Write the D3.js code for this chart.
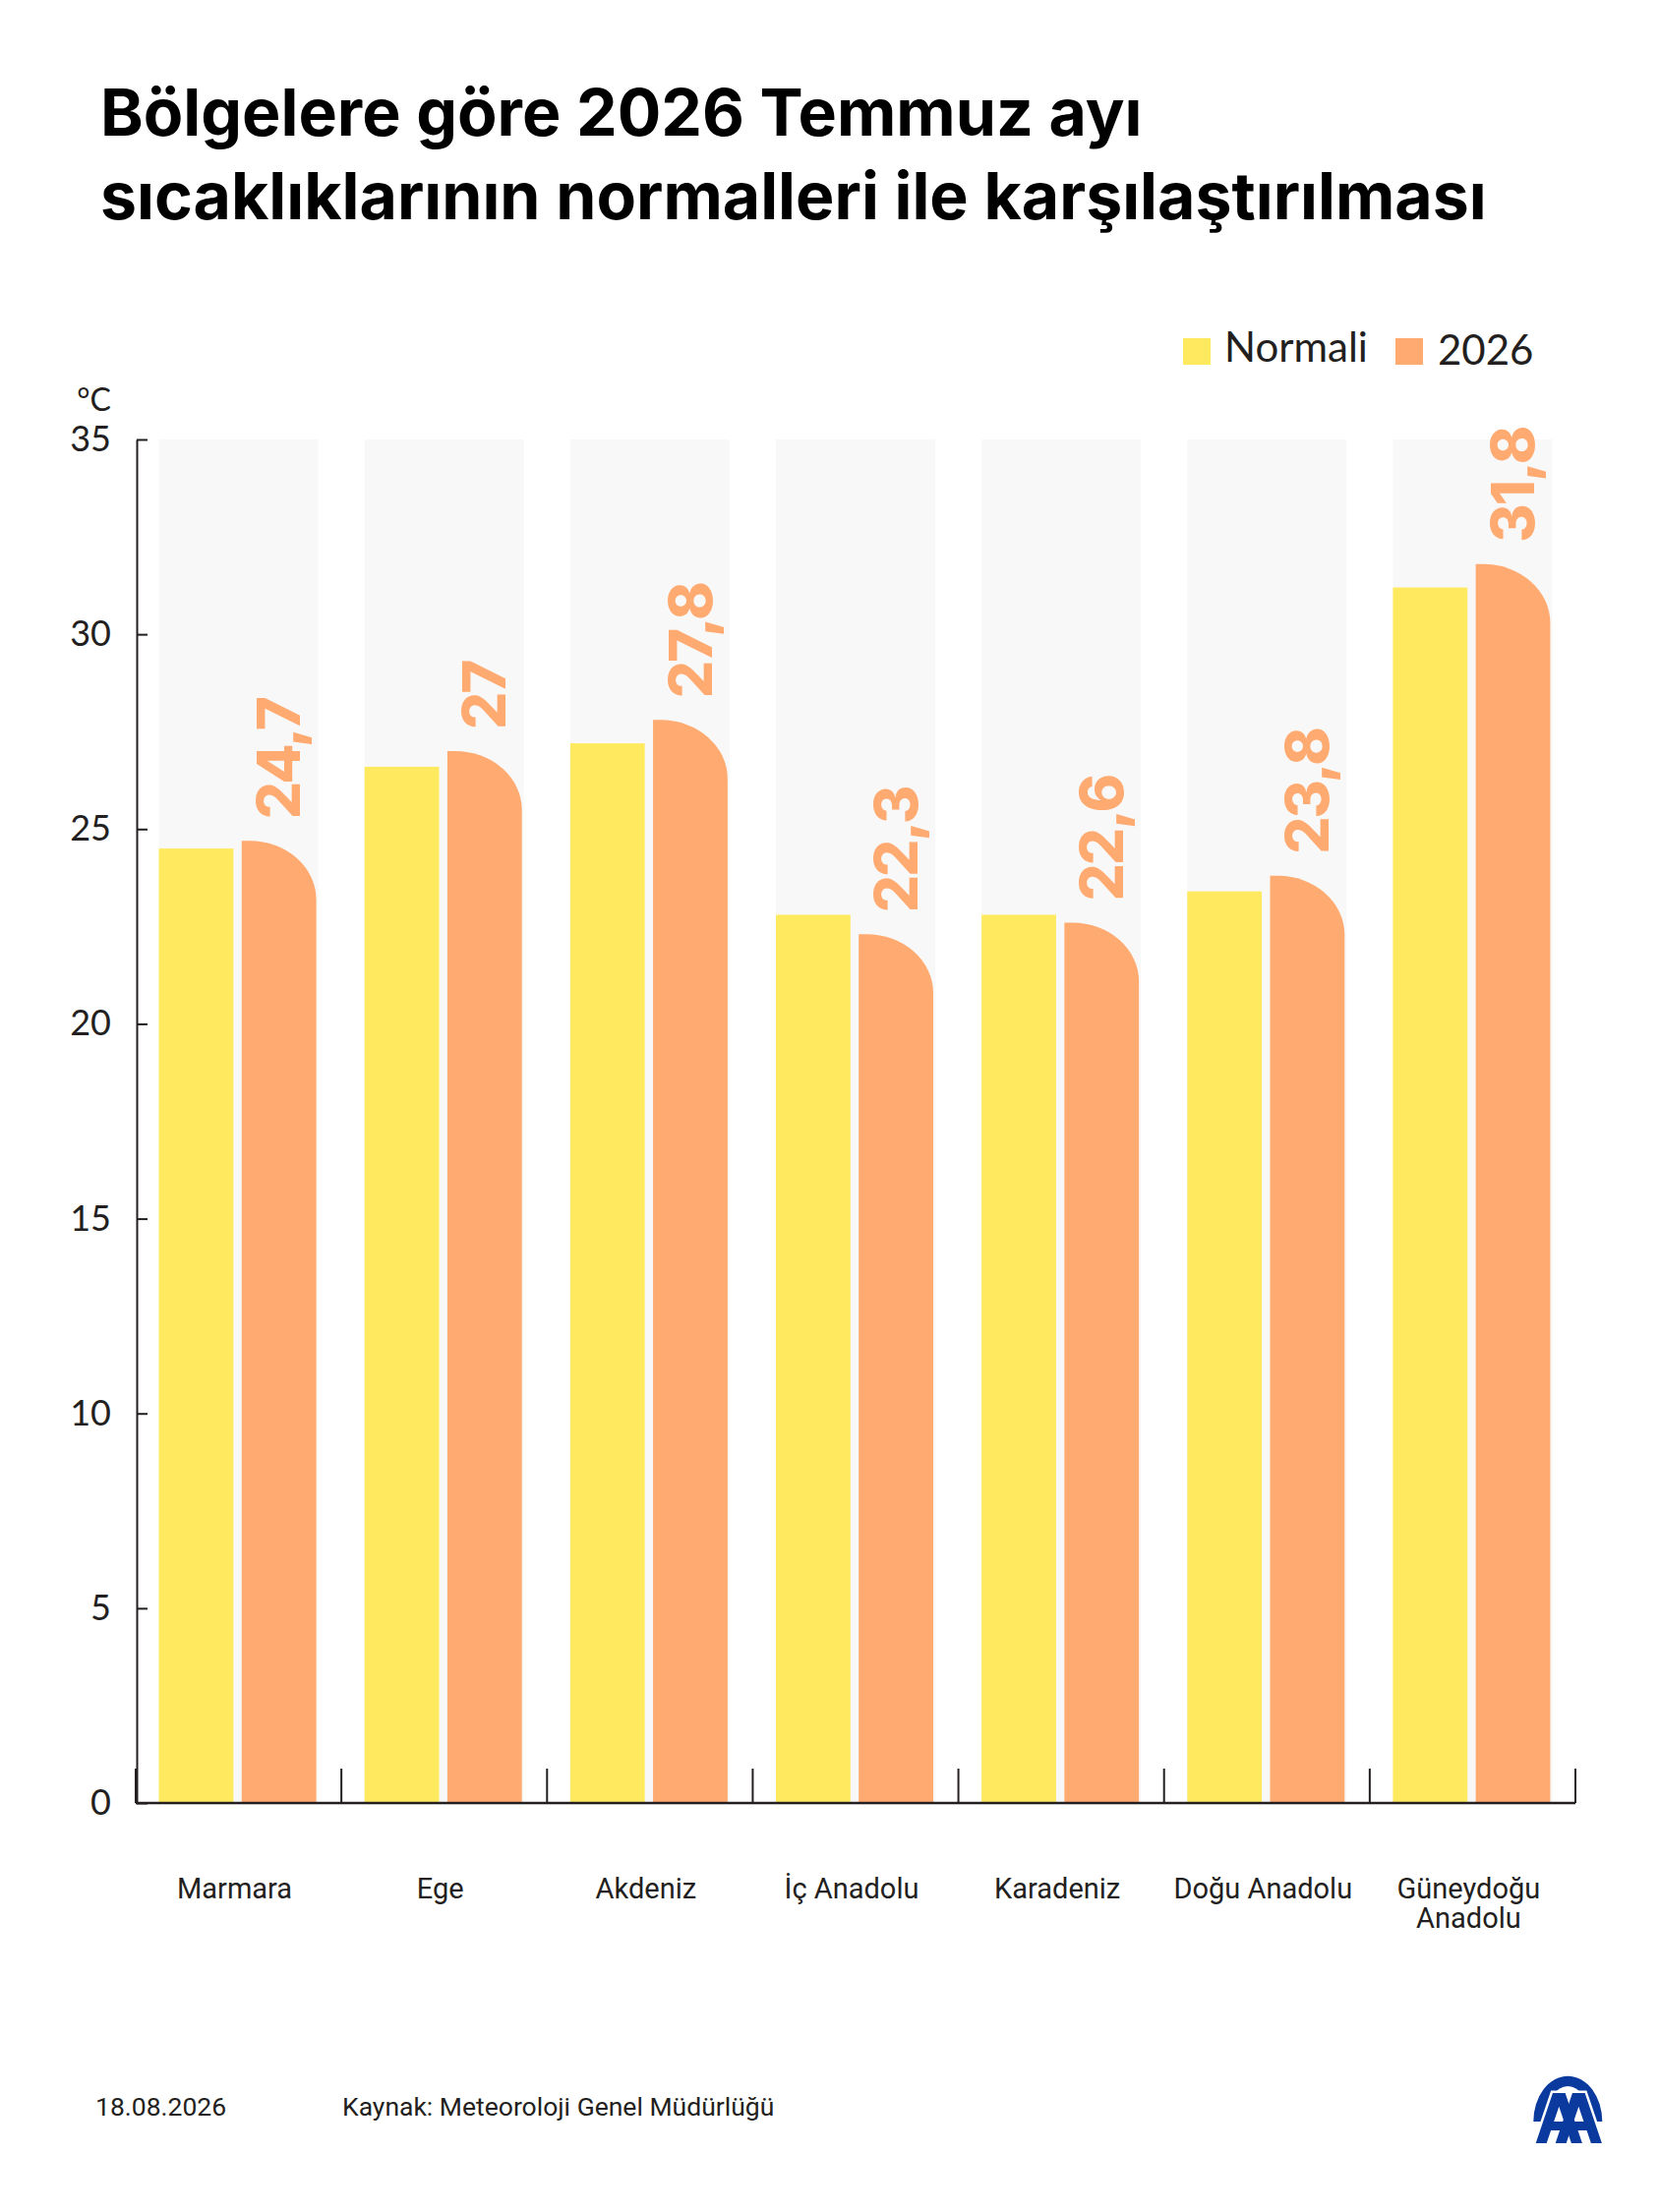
<!DOCTYPE html>
<html><head><meta charset="utf-8">
<script src="https://cdn.jsdelivr.net/npm/d3@7"></script>
<style>html,body{margin:0;padding:0;background:#fff}svg{display:block}</style>
</head><body>
<script>
// ---- data ----
const categories = ["Marmara", "Ege", "Akdeniz", "İç Anadolu", "Karadeniz", "Doğu Anadolu", "Güneydoğu Anadolu"];
const categoryLines = [["Marmara"], ["Ege"], ["Akdeniz"], ["İç Anadolu"], ["Karadeniz"], ["Doğu Anadolu"], ["Güneydoğu", "Anadolu"]];
const normalValues = [24.5, 26.6, 27.2, 22.8, 22.8, 23.4, 31.2];
const values2026 = [24.7, 27, 27.8, 22.3, 22.6, 23.8, 31.8];
const valueLabels = ["24,7", "27", "27,8", "22,3", "22,6", "23,8", "31,8"];
const yTicks = [0, 5, 10, 15, 20, 25, 30, 35];
const seriesNames = ["Normali", "2026"];
const titleLines = ["Bölgelere göre 2026 Temmuz ayı", "sıcaklıklarının normalleri ile karşılaştırılması"];
const unitLabel = "°C";
const footerDate = "18.08.2026";
const footerSource = "Kaynak: Meteoroloji Genel Müdürlüğü";

// ---- layout ----
const W = 1687, H = 2250;
const COL_N = "#FFE95F", COL_Y = "#FFAA70", BAND = "#F8F8F8", INK = "#231F20";

const svg = d3.select("body").append("svg").attr("width", W).attr("height", H);
svg.append("rect").attr("width", W).attr("height", H).attr("fill", "#fff");

const y = d3.scaleLinear().domain([0, 35]).range([1834, 447]);
const x = d3.scaleBand().domain(categories).range([138, 1602]).paddingInner(0.2254).paddingOuter(0.1127);
const inner = d3.scaleBand().domain(seriesNames).range([0, 160]).paddingInner(0.1);

// title
const tl = svg.append("g").selectAll("text").data(titleLines).join("text")
  .attr("x", 102).attr("y", (d, i) => 138 + i * 85)
  .attr("font-family", "Inter, 'Noto Sans', sans-serif").attr("font-weight", 700)
  .attr("font-size", 68).attr("fill", "#000").text(d => d);
const w2 = tl.nodes()[1].getComputedTextLength();
tl.attr("font-size", 68 * 1410 / w2);

// legend
const legend = [
  { name: seriesNames[0], color: COL_N, rx: 1203, tx: 1245, ty: 368 },
  { name: seriesNames[1], color: COL_Y, rx: 1419, tx: 1462, ty: 371 }
];
const lg = svg.append("g").selectAll("g").data(legend).join("g");
lg.append("rect").attr("x", d => d.rx).attr("y", 344).attr("width", 28).attr("height", 27).attr("fill", d => d.color);
lg.append("text").attr("x", d => d.tx).attr("y", d => d.ty)
  .attr("font-family", "Lato, 'Open Sans', sans-serif").attr("font-size", 42).attr("fill", INK).text(d => d.name);

// unit
svg.append("text").attr("x", 113).attr("y", 418).attr("text-anchor", "end")
  .attr("font-family", "Lato, sans-serif").attr("font-size", 32).attr("fill", INK).text(unitLabel);

// background bands
svg.append("g").selectAll("rect").data(categories).join("rect")
  .attr("x", d => x(d)).attr("y", y(35)).attr("width", x.bandwidth())
  .attr("height", y(0) - y(35)).attr("fill", BAND);

// normal bars
svg.append("g").selectAll("rect").data(categories).join("rect")
  .attr("x", d => x(d) + inner(seriesNames[0]))
  .attr("y", (d, i) => y(normalValues[i]))
  .attr("width", inner.bandwidth())
  .attr("height", (d, i) => y(0) - y(normalValues[i]))
  .attr("fill", COL_N);

// 2026 bars with rounded top-right corner
function roundedBar(x0, w, yt, yb) {
  const rx = w - 8, ry = 60;
  const x1 = x0 + w;
  return `M${x0},${yb}V${yt}H${x1 - rx}A${rx},${ry} 0 0 1 ${x1},${yt + ry}V${yb}Z`;
}
svg.append("g").selectAll("path").data(categories).join("path")
  .attr("d", (d, i) => roundedBar(x(d) + inner(seriesNames[1]), inner.bandwidth(), y(values2026[i]), y(0)))
  .attr("fill", COL_Y);

// value labels
svg.append("g").selectAll("text").data(categories).join("text")
  .attr("transform", (d, i) => `translate(${x(d) + inner(seriesNames[1]) + inner.bandwidth() / 2},${y(values2026[i]) - 22}) rotate(-90)`)
  .attr("dy", "0.36em")
  .attr("font-family", "Inter, 'Noto Sans', sans-serif").attr("font-weight", 800)
  .attr("font-size", 60).attr("letter-spacing", -2).attr("fill", COL_Y)
  .text((d, i) => valueLabels[i]);

// y axis
const yAxis = svg.append("g").attr("transform", "translate(139,0)")
  .call(d3.axisLeft(y).tickValues(yTicks).tickSizeInner(-11).tickSizeOuter(0).tickPadding(26));
yAxis.select(".domain").attr("stroke", INK).attr("stroke-width", 2);
yAxis.selectAll(".tick line").attr("stroke", INK).attr("stroke-width", 2);
yAxis.selectAll(".tick text").attr("font-family", "Lato, sans-serif").attr("font-size", 36).attr("fill", INK);

// x axis baseline and separators
const xr = x.range();
svg.append("line").attr("x1", xr[0]).attr("x2", xr[1]).attr("y1", y(0)).attr("y2", y(0))
  .attr("stroke", INK).attr("stroke-width", 2.5);
const seps = d3.range(categories.length + 1).map(i => xr[0] + i * x.step());
svg.append("g").selectAll("line").data(seps).join("line")
  .attr("x1", d => d).attr("x2", d => d).attr("y1", y(0) - 35).attr("y2", y(0))
  .attr("stroke", INK).attr("stroke-width", 2);

// category labels
const cl = svg.append("g").selectAll("text").data(categories).join("text")
  .attr("x", d => x(d) + x.bandwidth() / 2 - 4).attr("y", 1931)
  .attr("text-anchor", "middle").attr("font-family", "Roboto, sans-serif")
  .attr("font-size", 29).attr("fill", INK);
cl.selectAll("tspan").data((d, i) => categoryLines[i]).join("tspan")
  .attr("x", function () { return this.parentNode.getAttribute("x"); })
  .attr("dy", (d, j) => j === 0 ? 0 : 30).text(d => d);

// footer
svg.append("text").attr("x", 97).attr("y", 2152).attr("font-family", "Roboto, sans-serif")
  .attr("font-size", 26.5).attr("fill", INK).text(footerDate);
svg.append("text").attr("x", 348).attr("y", 2152).attr("font-family", "Roboto, sans-serif")
  .attr("font-size", 26.5).attr("fill", INK).text(footerSource);

// AA logo
const BLUE = "#0A3A9E";
const logo = svg.append("g");
const acx = 1594.3, acy = 2158;
logo.append("path").attr("fill", BLUE).attr("d",
  `M${acx - 35},${acy} A35,46.3 0 0 1 ${acx + 35},${acy} L${acx + 23},${acy} A23,36 0 0 0 ${acx - 23},${acy} Z`);
function letterA(c) {
  return `M${c - 6.35},2129 H${c + 6.35} L${c + 23.6},2180 H${c + 12.6} L${c + 8.2},2167 H${c - 8.2} L${c - 12.6},2180 H${c - 23.6} Z ` +
         `M${c},2142.7 L${c + 5.16},2158 H${c - 5.16} Z`;
}
[1585.3, 1605.3].forEach(c => {
  logo.append("path").attr("fill-rule", "evenodd").attr("d", letterA(c))
    .attr("fill", BLUE).attr("stroke", "#fff").attr("stroke-width", 5).attr("stroke-linejoin", "miter");
});
[1585.3, 1605.3].forEach(c => {
  logo.append("path").attr("fill-rule", "evenodd").attr("d", letterA(c)).attr("fill", BLUE);
});
</script>
</body></html>
